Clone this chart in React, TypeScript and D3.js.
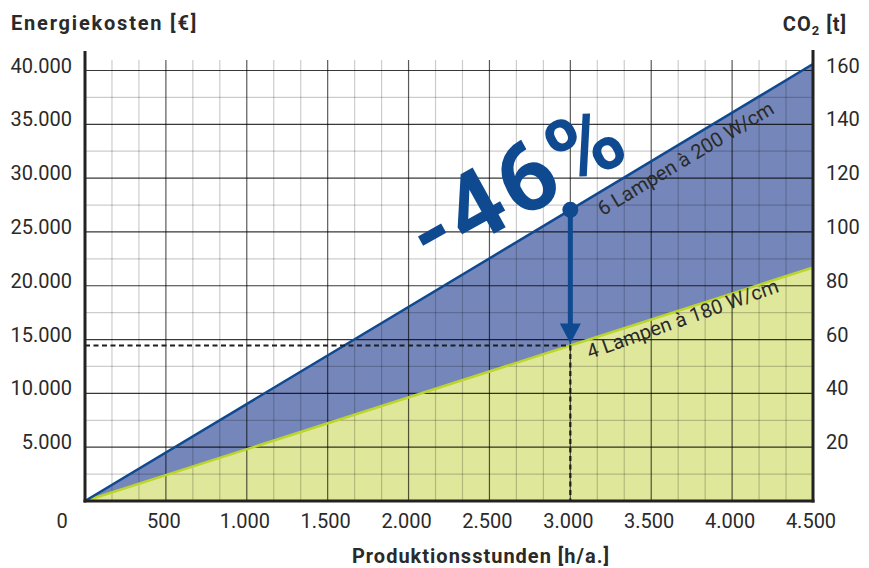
import * as d3 from 'd3';

// Data
const hours = [0, 3000, 4500];
const lamps6 = [0, 27050, 40600]; // 6 Lampen à 200 W/cm, €
const lamps4 = [0, 14450, 21700]; // 4 Lampen à 180 W/cm, €
const xTicks = [500, 1000, 1500, 2000, 2500, 3000, 3500, 4000, 4500];
const yTicks = [5000, 10000, 15000, 20000, 25000, 30000, 35000, 40000];
const co2Ticks = [20, 40, 60, 80, 100, 120, 140, 160];
const savingLabel = '-46%';
const label6 = '6 Lampen à 200 W/cm';
const label4 = '4 Lampen à 180 W/cm';

const W = 869;
const H = 568;
const left = 85;
const right = 813;
const bottom = 501;
const gridTop = 60;

const BLUE = '#0f4a91';
const BLUE_FILL = '#7587ba';
const GREEN = '#bcd52c';
const GREEN_FILL = '#dfe79a';
const TEXT = '#2a2a2a';

const de = d3.formatLocale({ decimal: ',', thousands: '.', grouping: [3], currency: ['', '€'] });
const fmt = de.format(',');

const App = () => {
  const x = d3.scaleLinear().domain([0, 4500]).range([left, right]);
  const y = d3.scaleLinear().domain([0, 40000]).range([bottom, 70.5]);
  const yCo2 = d3.scaleLinear().domain([0, 160]).range([bottom, 70.5]);

  const idx = hours.map((_, i) => i);

  const greenArea = d3.area<number>()
    .x(i => x(hours[i]))
    .y0(() => y(0))
    .y1(i => y(lamps4[i]))(idx) || '';

  const blueArea = d3.area<number>()
    .x(i => x(hours[i]))
    .y0(i => y(lamps4[i]))
    .y1(i => y(lamps6[i]))(idx) || '';

  const line6 = d3.line<number>().x(i => x(hours[i])).y(i => y(lamps6[i]))(idx) || '';
  const line4 = d3.line<number>().x(i => x(hours[i])).y(i => y(lamps4[i]))(idx) || '';

  // grid: x minor every 500/3 h, y minor every 2500 €
  const xGrid = d3.range(1, 27).map(i => (i * 500) / 3);
  const yGrid = d3.range(1, 17).map(i => i * 2500);

  const mx = x(hours[1]);
  const my6 = y(lamps6[1]);
  const my4 = y(lamps4[1]);

  const ang6 = -31;
  const ang4 = -19.5;

  return (
    <svg width={W} height={H} style={{ position: 'absolute', left: 0, top: 0, background: '#fff' }}
      fontFamily="Roboto, 'DejaVu Sans', sans-serif">
      {/* areas */}
      <path d={greenArea} fill={GREEN_FILL} />
      <path d={blueArea} fill={BLUE_FILL} />

      {/* grid */}
      <g>
        {xGrid.map((v, i) => {
          const major = (i + 1) % 3 === 0;
          return (
            <line key={'xg' + i} x1={x(v)} x2={x(v)} y1={gridTop} y2={bottom}
              stroke={major ? 'rgba(0,0,0,0.65)' : 'rgba(0,0,0,0.2)'} strokeWidth={1.2} />
          );
        })}
        {yGrid.map((v, i) => {
          const major = v % 5000 === 0;
          return (
            <line key={'yg' + i} x1={left} x2={right} y1={y(v)} y2={y(v)}
              stroke={major ? 'rgba(0,0,0,0.78)' : 'rgba(0,0,0,0.2)'} strokeWidth={1.2} />
          );
        })}
      </g>

      {/* series lines */}
      <path d={line4} fill="none" stroke={GREEN} strokeWidth={2.5} />
      <path d={line6} fill="none" stroke={BLUE} strokeWidth={2.5} />

      {/* dashed guide lines */}
      <line x1={left} x2={mx} y1={my4} y2={my4} stroke="#1e1e1e" strokeWidth={2.2} strokeDasharray="5,3.5" />
      <line x1={mx} x2={mx} y1={my4} y2={bottom} stroke="#1e1e1e" strokeWidth={2.2} strokeDasharray="5,3.5" />

      {/* axes */}
      <line x1={left} x2={left} y1={51} y2={bottom + 1.5} stroke="#222" strokeWidth={3} />
      <line x1={right} x2={right} y1={50} y2={bottom + 1.5} stroke="#222" strokeWidth={3} />
      <line x1={left - 1.5} x2={right + 1.5} y1={bottom} y2={bottom} stroke="#222" strokeWidth={3} />

      {/* arrow */}
      <line x1={mx} x2={mx} y1={my6} y2={my4 - 20} stroke={BLUE} strokeWidth={5} />
      <path d={`M${mx - 10.5},${my4 - 22} L${mx + 10.5},${my4 - 22} L${mx},${my4 - 2} Z`} fill={BLUE} />
      <circle cx={mx} cy={my6} r={8} fill={BLUE} />

      {/* tick labels */}
      <g fontSize={20} fill={TEXT}>
        {yTicks.map(v => (
          <text key={'yl' + v} x={72} y={y(v) + 2} textAnchor="end">{fmt(v)}</text>
        ))}
        <text x={62} y={528} textAnchor="middle">0</text>
        {xTicks.map(v => (
          <text key={'xl' + v} x={x(v) - 2} y={528} textAnchor="middle">{fmt(v)}</text>
        ))}
        {co2Ticks.map(v => (
          <text key={'cl' + v} x={826} y={yCo2(v) + 2} textAnchor="start">{v}</text>
        ))}
      </g>

      {/* titles */}
      <text x={11} y={30} fontSize={20} fontWeight={700} letterSpacing={1.8} fill={TEXT}>Energiekosten [€]</text>
      <text x={847} y={31} fontSize={20} fontWeight={700} letterSpacing={1} fill={TEXT} textAnchor="end">
        CO<tspan fontSize={13} dy={4}>2</tspan><tspan dy={-4}> [t]</tspan>
      </text>
      <text x={481} y={563} fontSize={20} fontWeight={700} letterSpacing={1} fill={TEXT} textAnchor="middle">
        Produktionsstunden [h/a.]
      </text>

      {/* line labels */}
      <text transform={`translate(${x(3200)},${y(lamps6[2] * 3200 / 4500) + 26}) rotate(${ang6})`}
        fontSize={20} fontWeight={400} fill={TEXT}>{label6}</text>
      <text transform={`translate(${x(3120)},${y(lamps4[2] * 3120 / 4500) + 20}) rotate(${ang4})`}
        fontSize={20} fontWeight={400} fill={TEXT}>{label4}</text>

      {/* saving label */}
      <text transform={`translate(516,182) rotate(-29)`} fontSize={96} fontWeight={700} fill={BLUE}
        textAnchor="middle" dy="0.36em" letterSpacing={4}>{savingLabel}</text>
    </svg>
  );
};

export default App;
